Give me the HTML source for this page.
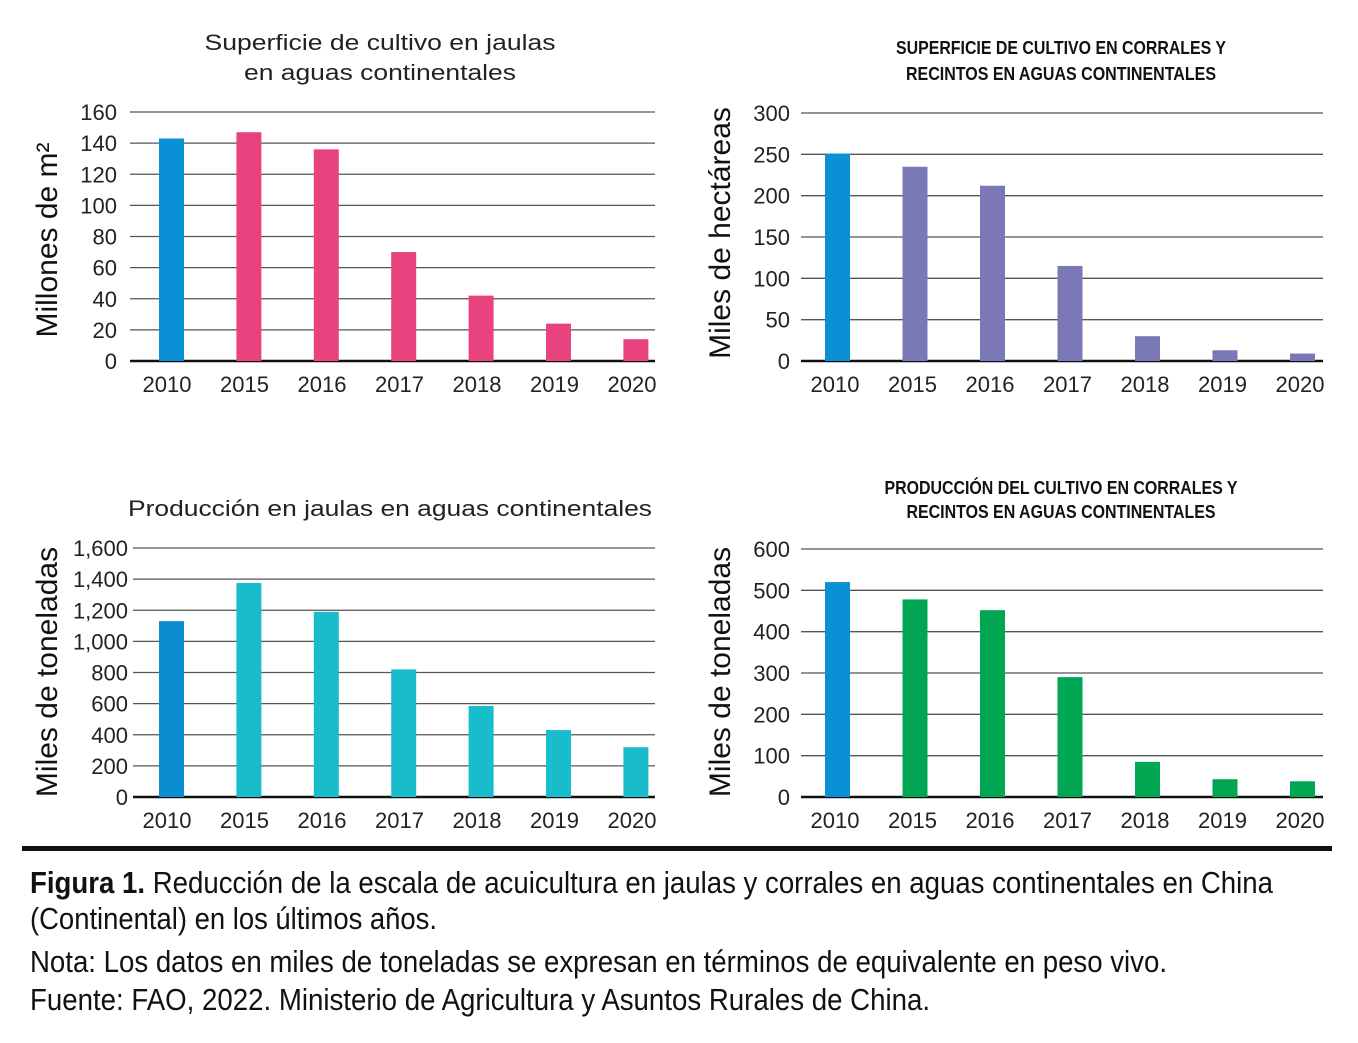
<!DOCTYPE html>
<html><head><meta charset="utf-8"><style>
html,body{margin:0;padding:0;background:#fff;}
svg{display:block;font-family:"Liberation Sans",sans-serif;}
.tick{font-size:22px;fill:#222;}
.yt{font-size:30px;fill:#111;}
.tt{font-size:22px;fill:#222;}
.tc{font-family:"Liberation Sans Narrow","Liberation Sans",sans-serif;font-size:18px;font-weight:bold;fill:#111;}
.cap{font-family:"Liberation Sans Narrow","Liberation Sans",sans-serif;font-size:31px;fill:#111;}
</style></head><body>
<svg id="fig" width="1358" height="1043" viewBox="0 0 1358 1043">
<g id="c1">
<text class="tt" x="380" y="50" text-anchor="middle" textLength="351" lengthAdjust="spacingAndGlyphs">Superficie de cultivo en jaulas</text>
<text class="tt" x="380" y="80" text-anchor="middle" textLength="272" lengthAdjust="spacingAndGlyphs">en aguas continentales</text>
<text class="yt" transform="translate(57,240) rotate(-90)" text-anchor="middle">Millones de m²</text>
</g>
<g id="c2">
<text class="tc" x="1061" y="54" text-anchor="middle" textLength="330" lengthAdjust="spacingAndGlyphs">SUPERFICIE DE CULTIVO EN CORRALES Y</text>
<text class="tc" x="1061" y="80" text-anchor="middle" textLength="310" lengthAdjust="spacingAndGlyphs">RECINTOS EN AGUAS CONTINENTALES</text>
<text class="yt" transform="translate(730,233) rotate(-90)" text-anchor="middle">Miles de hectáreas</text>
</g>
<g id="c3">
<text class="tt" x="390" y="516" text-anchor="middle" textLength="524" lengthAdjust="spacingAndGlyphs">Producción en jaulas en aguas continentales</text>
<text class="yt" transform="translate(57,672) rotate(-90)" text-anchor="middle">Miles de toneladas</text>
</g>
<g id="c4">
<text class="tc" x="1061" y="494" text-anchor="middle" textLength="353" lengthAdjust="spacingAndGlyphs">PRODUCCIÓN DEL CULTIVO EN CORRALES Y</text>
<text class="tc" x="1061" y="518" text-anchor="middle" textLength="309" lengthAdjust="spacingAndGlyphs">RECINTOS EN AGUAS CONTINENTALES</text>
<text class="yt" transform="translate(730,672) rotate(-90)" text-anchor="middle">Miles de toneladas</text>
</g>
<rect x="22" y="846" width="1310" height="5" fill="#111"/>
<g>
<text class="cap" x="30" y="893" textLength="1243" lengthAdjust="spacingAndGlyphs"><tspan font-weight="bold">Figura 1.</tspan> Reducción de la escala de acuicultura en jaulas y corrales en aguas continentales en China</text>
<text class="cap" x="30" y="929" textLength="407" lengthAdjust="spacingAndGlyphs">(Continental) en los últimos años.</text>
<text class="cap" x="30" y="972" textLength="1137" lengthAdjust="spacingAndGlyphs">Nota: Los datos en miles de toneladas se expresan en términos de equivalente en peso vivo.</text>
<text class="cap" x="30" y="1010" textLength="900" lengthAdjust="spacingAndGlyphs">Fuente: FAO, 2022. Ministerio de Agricultura y Asuntos Rurales de China.</text>
</g>
</svg>
<script>
const categories = ["2010","2015","2016","2017","2018","2019","2020"];
const cageAreaValues = [143,147,136,70,42,24,14];
const penAreaValues = [251,235,212,115,30,13,9];
const cageProdValues = [1130,1375,1190,820,585,430,320];
const penProdValues = [520,478,452,290,85,43,38];
const cageAreaTicks = [0,20,40,60,80,100,120,140,160];
const penAreaTicks = [0,50,100,150,200,250,300];
const cageProdTicks = [0,200,400,600,800,1000,1200,1400,1600];
const penProdTicks = [0,100,200,300,400,500,600];
const cageProdTickLabels = ["0","200","400","600","800","1,000","1,200","1,400","1,600"];

const NS="http://www.w3.org/2000/svg";
function mk(tag,attrs,parent){const e=document.createElementNS(NS,tag);for(const k in attrs)e.setAttribute(k,attrs[k]);parent.appendChild(e);return e;}

function draw(gid,cfg,values,ticks,labels,firstColor,color){
  const g=document.getElementById(gid);
  const max=ticks[ticks.length-1];
  const y=v=>cfg.y0-(v/max)*(cfg.y0-cfg.yTop);
  const x=i=>cfg.barL+i*cfg.step;
  ticks.forEach((t,i)=>{
    const ln=mk('line',{x1:cfg.gx0,x2:cfg.gx1,y1:y(t),y2:y(t),stroke:i===0?'#111':'#555','stroke-width':i===0?2.5:1.3},g);
    
    
    const tx=mk('text',{x:cfg.tickX,y:y(t)+8,'text-anchor':'end',class:'tick'},g);
    tx.textContent=labels?labels[i]:String(t);
    
    
  });
  values.forEach((v,i)=>{
    const r=mk('rect',{x:x(i),y:y(v),width:cfg.bw,height:cfg.y0-y(v),fill:i===0?firstColor:color},g);
    
    
    const t=mk('text',{x:cfg.labX+i*cfg.labStep,y:cfg.y0+31,'text-anchor':'middle',class:'tick'},g);
    t.textContent=categories[i];
    
    
  });
}
draw('c1',{y0:361,yTop:112,gx0:130,gx1:655,tickX:117,barL:159,step:77.4,bw:25,labX:167,labStep:77.5},cageAreaValues,cageAreaTicks,null,'#0a90d5','#e8437f');
draw('c2',{y0:361,yTop:113,gx0:801,gx1:1323,tickX:790,barL:825,step:77.5,bw:25,labX:835,labStep:77.5},penAreaValues,penAreaTicks,null,'#0a90d5','#7b78b8');
draw('c3',{y0:797,yTop:548,gx0:133,gx1:655,tickX:128,barL:159,step:77.4,bw:25,labX:167,labStep:77.5},cageProdValues,cageProdTicks,cageProdTickLabels,'#0b8dd2','#18bccb');
draw('c4',{y0:797,yTop:549,gx0:801,gx1:1323,tickX:790,barL:825,step:77.5,bw:25,labX:835,labStep:77.5},penProdValues,penProdTicks,null,'#0a90d5','#00a651');
</script>
</body></html>
